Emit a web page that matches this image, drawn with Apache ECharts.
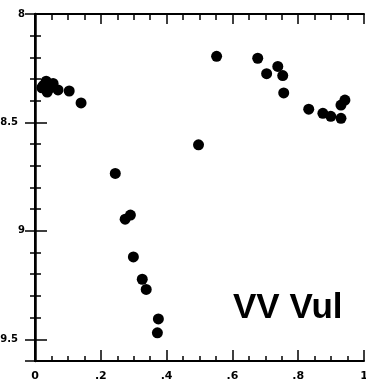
<!DOCTYPE html>
<html>
<head>
<meta charset="utf-8">
<script src="https://cdn.jsdelivr.net/npm/echarts@6/dist/echarts.min.js"></script>
<style>html,body{margin:0;padding:0;background:#fff;}#c{width:366px;height:384px;}</style>
</head>
<body>
<div id="c"></div>
<script>
// Light curve of VV Vul: phase vs. magnitude
const phase = [0.021, 0.034, 0.046, 0.055, 0.037, 0.025, 0.070, 0.104, 0.140,
  0.244, 0.274, 0.290, 0.299, 0.326, 0.338, 0.375, 0.372,
  0.497, 0.552, 0.677, 0.704, 0.738, 0.753, 0.756,
  0.832, 0.875, 0.899, 0.930, 0.930, 0.942];
const magnitude = [8.34, 8.31, 8.34, 8.32, 8.36, 8.33, 8.35, 8.355, 8.41,
  8.735, 8.946, 8.927, 9.12, 9.223, 9.27, 9.406, 9.47,
  8.603, 8.195, 8.204, 8.275, 8.242, 8.284, 8.364,
  8.439, 8.458, 8.472, 8.481, 8.42, 8.397];
const xTickLabels = {0: '0', 0.2: '.2', 0.4: '.4', 0.6: '.6', 0.8: '.8', 1: '1'};
const yTickLabels = {8: '8', 8.5: '8.5', 9: '9', 9.5: '9.5'};
const starName = 'VV Vul';

const points = phase.map((p, i) => [p, magnitude[i]]);
const chart = echarts.init(document.getElementById('c'), null, {renderer: 'canvas'});
const lineStyle = {color: '#000', width: 2};
const keyOf = v => String(Math.round(v * 100) / 100);
chart.setOption({
  animation: false,
  grid: {left: 35, right: 2, top: 14, bottom: 23, containLabel: false, outerBoundsMode: 'none'},
  xAxis: [{
    type: 'value', min: 0, max: 1, interval: 0.2, position: 'bottom',
    axisLine: {lineStyle: lineStyle},
    axisTick: {inside: true, length: 11, lineStyle: {color: '#000', width: 1.5}},
    minorTick: {show: true, splitNumber: 4, length: 5, lineStyle: {color: '#000', width: 1.5}},
    splitLine: {show: false},
    axisLabel: {margin: 10, color: '#000', fontWeight: 'bold', fontSize: 11, fontFamily: 'DejaVu Sans',
      formatter: v => xTickLabels[keyOf(v)] || ''}
  }, {
    type: 'value', min: 0, max: 1, interval: 0.2, position: 'top',
    axisLine: {lineStyle: lineStyle},
    axisTick: {inside: true, length: 10, lineStyle: {color: '#000', width: 1.5}},
    minorTick: {show: true, splitNumber: 4, length: 6, lineStyle: {color: '#000', width: 1.5}},
    splitLine: {show: false}, axisLabel: {show: false}
  }],
  yAxis: [{
    type: 'value', inverse: true, min: 8, max: 9.6, interval: 0.5, position: 'left',
    axisLine: {lineStyle: {color: '#000', width: 2.5}},
    axisTick: {inside: true, length: 12, lineStyle: {color: '#000', width: 1.5}},
    minorTick: {show: true, splitNumber: 5, length: 6, lineStyle: {color: '#000', width: 1.5}},
    splitLine: {show: false},
    axisLabel: {margin: 10, color: '#000', fontWeight: 'bold', fontSize: 10, fontFamily: 'DejaVu Sans',
      formatter: v => {
        const t = yTickLabels[keyOf(v)];
        if (!t) return '';
        return t.indexOf('.') >= 0 ? '{h|' + t + '}' : '{w|' + t + '}';
      },
      rich: {
        h: {padding: [0, 7, 0, 0], fontWeight: 'bold', fontSize: 10, fontFamily: 'DejaVu Sans', color: '#000'},
        w: {fontWeight: 'bold', fontSize: 10, fontFamily: 'DejaVu Sans', color: '#000'}
      }}
  }, {
    type: 'value', inverse: true, min: 8, max: 9.6, interval: 0.5, position: 'right',
    axisLine: {lineStyle: lineStyle},
    axisTick: {inside: true, length: 10, lineStyle: {color: '#000', width: 1.5}},
    minorTick: {show: true, splitNumber: 5, length: 5, lineStyle: {color: '#000', width: 1.5}},
    splitLine: {show: false}, axisLabel: {show: false}
  }],
  graphic: [{
    type: 'text', left: 233, top: 291,
    style: {text: starName, fill: '#000', font: 'bold 35px "Liberation Sans", Arial, sans-serif'}
  }],
  series: [{
    type: 'scatter', xAxisIndex: 0, yAxisIndex: 0, data: points,
    symbol: 'circle', symbolSize: 11,
    itemStyle: {color: '#000', opacity: 1}
  }]
});
</script>
</body>
</html>
